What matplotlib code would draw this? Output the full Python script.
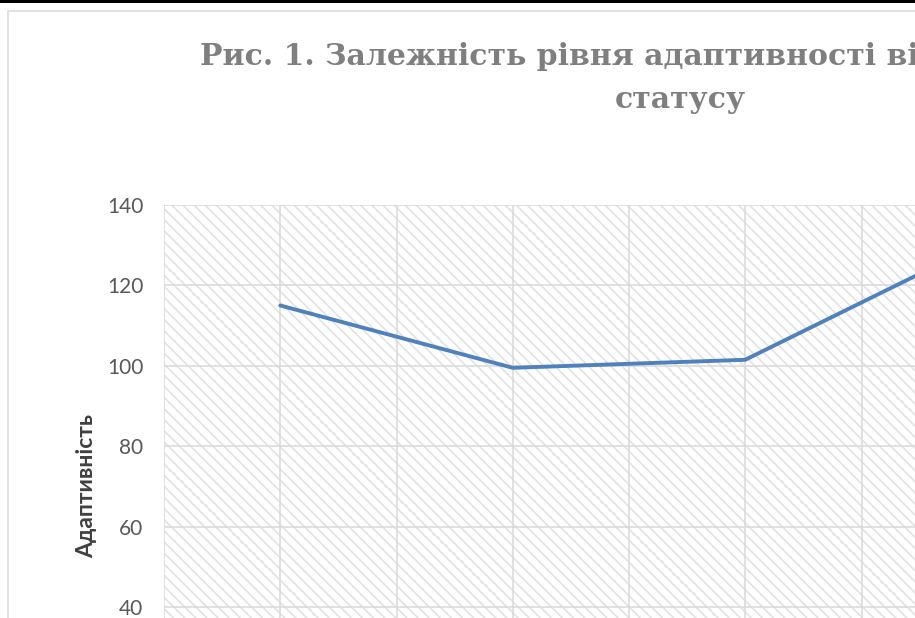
import matplotlib
matplotlib.use('Agg')
import matplotlib.pyplot as plt
from matplotlib.patches import Rectangle

# values (5th category lies outside the visible crop)
categories=['1','2','3','4','5']
values=[115,99.5,101.5,130]
y_ticks=[0,20,40,60,80,100,120,140]
title_line1='Рис. 1. Залежність рівня адаптивності від соціального'
title_line2='статусу'
y_label='Адаптивність'

W,H=915,618
plt.rcParams['hatch.linewidth']=1.2
fig=plt.figure(figsize=(W/100,H/100),dpi=100)
fig.patch.set_facecolor('white')

# black strip on top and chart area border (crop of a bigger Excel chart)
fig.patches.append(Rectangle((0,1-3/H),1,3/H,transform=fig.transFigure,facecolor='black',edgecolor='none',zorder=5))
fig.patches.append(Rectangle((8/W,-0.5),1.5,1-11/H+0.5,transform=fig.transFigure,facecolor='none',edgecolor='#d9d9d9',linewidth=1.1,zorder=4))

n=len(categories)
left=164/W
top=(H-205)/H
px_per_unit=80.4/20
bottom=(H-205-px_per_unit*140)/H
width=232.5*n/W
ax=fig.add_axes([left,bottom,width,top-bottom])
ax.set_facecolor('white')
ax.add_patch(Rectangle((0,0),1,1,transform=ax.transAxes,facecolor='white',edgecolor='#e2e2e2',linewidth=0,hatch='\\\\\\',zorder=0))

x=list(range(len(values)))
ax.plot(x,values,color='#4f81bd',linewidth=2.8,solid_joinstyle='round',solid_capstyle='round',zorder=3)

ax.set_xlim(-0.5,n-0.5)
ax.set_ylim(0,140)
ax.set_yticks(y_ticks)
ax.set_xticks([i*0.5-0.5 for i in range(2*n+1)])
ax.set_xticklabels([])
ax.grid(True,color='#d9d9d9',linewidth=1.1,zorder=1)
ax.set_axisbelow(True)
for s in ax.spines.values():
    s.set_visible(False)
ax.tick_params(axis='both',length=0)
ax.tick_params(axis='y',pad=15,labelsize=15,labelcolor='#595959')
for lab in ax.get_yticklabels():
    lab.set_fontfamily('Lato')
ax.set_ylabel(y_label,fontfamily='Lato',fontweight='bold',fontsize=16.5,color='#404040',labelpad=7)

fig.text(200/W,(H-65)/H,title_line1,ha='left',va='baseline',fontfamily='DejaVu Serif',fontweight='bold',fontsize=21.5,color='#7f7f7f')
fig.text(680/W,(H-108)/H,title_line2,ha='center',va='baseline',fontfamily='DejaVu Serif',fontweight='bold',fontsize=21.5,color='#7f7f7f')

fig.savefig('out.png',dpi=100)
